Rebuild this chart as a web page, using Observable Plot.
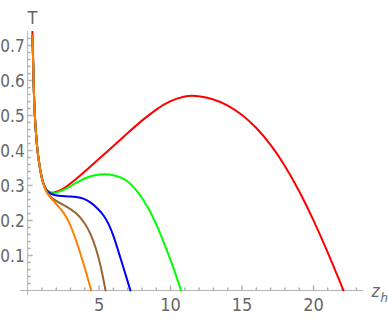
<!DOCTYPE html>
<html>
<head>
<meta charset="utf-8">
<script src="https://cdn.jsdelivr.net/npm/d3@7"></script>
<script src="https://cdn.jsdelivr.net/npm/@observablehq/plot@0.6"></script>
<style>
  html, body { margin: 0; padding: 0; background: #fff; }
</style>
</head>
<body>
<div id="chart"></div>
<script>
// Shared steep descent (all curves)
const descentX = [0.34, 0.37, 0.41, 0.49, 0.6, 0.68, 0.85, 1.0, 1.14];
const descentY = [0.728, 0.68, 0.6, 0.5, 0.44, 0.4, 0.35, 0.32, 0.3];

const redX = [0.31, 0.335, ...descentX, 1.3, 1.5, 1.7, 2.0, 2.5, 3, 4, 5, 6, 7, 8, 9, 10, 11, 11.5, 12, 13, 14, 15, 16, 17, 18, 19, 20, 21, 22.1];
const redY = [0.78, 0.74, ...descentY, 0.288, 0.281, 0.278, 0.281, 0.29, 0.305, 0.34, 0.376, 0.413, 0.45, 0.486, 0.518, 0.543, 0.555, 0.557, 0.555, 0.547, 0.53, 0.503, 0.466, 0.418, 0.358, 0.285, 0.202, 0.11, 0];

const greenX = [...descentX, 1.3, 1.5, 1.7, 2.0, 2.4, 3.0, 3.5, 4.17, 4.8, 5.45, 6.0, 6.5, 6.96, 7.5, 8.0, 8.5, 9.0, 9.5, 10.0, 10.4, 10.73];
const greenY = [...descentY, 0.288, 0.28, 0.277, 0.279, 0.285, 0.298, 0.31, 0.324, 0.331, 0.333, 0.33, 0.324, 0.314, 0.293, 0.265, 0.232, 0.19, 0.14, 0.088, 0.042, 0];

const blueX = [...descentX, 1.3, 1.5, 1.84, 2.3, 3.0, 3.5, 4.0, 4.4, 4.87, 5.33, 5.68, 6.03, 6.31, 6.7, 7.19];
const blueY = [...descentY, 0.286, 0.279, 0.272, 0.27, 0.269, 0.267, 0.262, 0.252, 0.236, 0.215, 0.19, 0.154, 0.117, 0.066, 0];

const brownX = [...descentX, 1.3, 1.5, 1.84, 2.3, 3.0, 3.5, 4.0, 4.4, 4.75, 5.1, 5.45];
const brownY = [...descentY, 0.284, 0.272, 0.259, 0.249, 0.233, 0.218, 0.193, 0.163, 0.125, 0.075, 0];

const orangeX = [...descentX, 1.3, 1.6, 2.0, 2.54, 2.9, 3.23, 3.58, 4.0, 4.45];
const orangeY = [...descentY, 0.281, 0.265, 0.247, 0.222, 0.196, 0.162, 0.12, 0.065, 0];

const seriesColors = ["#ff0000", "#00ff00", "#0000ff", "#996633", "#ff8000"];
const seriesXs = [redX, greenX, blueX, brownX, orangeX];
const seriesYs = [redY, greenY, blueY, brownY, orangeY];

const xMajorTicks = [5, 10, 15, 20];
const xMinorTicks = d3.range(1, 24).filter(d => d % 5 !== 0);
const yMajorTicks = [0.1, 0.2, 0.3, 0.4, 0.5, 0.6, 0.7];
const yMinorTicks = d3.range(1, 37).filter(i => i % 5 !== 0).map(i => i * 0.02);

const xLabel = "z";
const xLabelSub = "h";
const yLabel = "T";

const tickShape = {
  draw(context, l) { context.moveTo(0, 0); context.lineTo(0, -l); }
};

const axisColor = "#b5b5b5";
const labelColor = "#666666";
const font = "'Liberation Sans Narrow', 'DejaVu Sans Condensed', 'Liberation Sans', sans-serif";

const lineMarks = seriesXs.map((xs, k) =>
  Plot.line(xs.map((x, i) => ({x, y: seriesYs[k][i]})), {
    x: "x", y: "y", stroke: seriesColors[k], strokeWidth: 2, curve: "basis", clip: true
  }));

const chart = Plot.plot({
  width: 388,
  height: 319,
  marginLeft: 20,
  marginRight: 25,
  marginTop: 31,
  marginBottom: 24,
  style: {fontFamily: font, background: "#fff"},
  x: {domain: [-0.5, 23.5], axis: null},
  y: {domain: [-0.0143, 0.74], axis: null},
  marks: [
    Plot.ruleX([0], {stroke: axisColor, strokeWidth: 1}),
    Plot.ruleY([0], {stroke: axisColor, strokeWidth: 1}),
    Plot.vector(xMinorTicks, {x: d => d, y: 0, length: 2.5, rotate: 0, anchor: "start", shape: tickShape, stroke: axisColor}),
    Plot.vector(xMajorTicks, {x: d => d, y: 0, length: 4.5, rotate: 0, anchor: "start", shape: tickShape, stroke: axisColor}),
    Plot.vector(yMinorTicks, {x: 0, y: d => d, length: 2.5, rotate: 90, anchor: "start", shape: tickShape, stroke: axisColor}),
    Plot.vector(yMajorTicks, {x: 0, y: d => d, length: 4.5, rotate: 90, anchor: "start", shape: tickShape, stroke: axisColor}),
    Plot.text(xMajorTicks, {x: d => d, y: 0, text: d => String(d), dy: 15, fontSize: 18, fill: labelColor}),
    Plot.text(yMajorTicks, {x: 0, y: d => d, text: d => d.toFixed(1), dx: -3, dy: 1, textAnchor: "end", fontSize: 17, fill: labelColor}),
    ...lineMarks,
    Plot.text([yLabel], {frameAnchor: "top-left", text: d => d, dx: 7, dy: -20, fontSize: 18, fill: labelColor}),
    Plot.text([xLabel], {x: 23.5, y: 0, text: d => d, dx: 8, dy: 1.3, textAnchor: "start", fontSize: 17, fontStyle: "italic", fill: labelColor}),
    Plot.text([xLabelSub], {x: 23.5, y: 0, text: d => d, dx: 17, dy: 7.2, textAnchor: "start", fontSize: 13, fontStyle: "italic", fill: labelColor})
  ]
});
document.getElementById("chart").appendChild(chart);
</script>
</body>
</html>
